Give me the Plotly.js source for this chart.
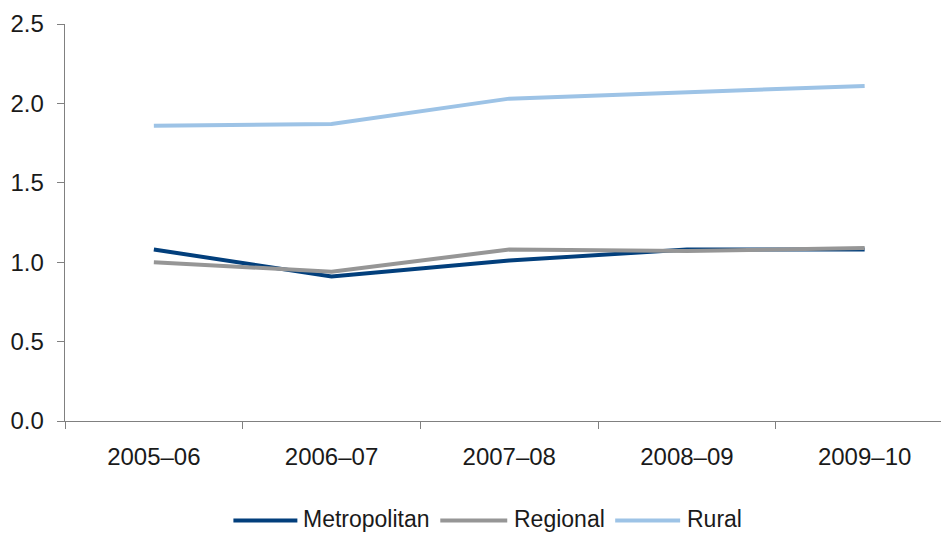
<!DOCTYPE html>
<html>
<head>
<meta charset="utf-8">
<script src="https://cdn.plot.ly/plotly-3.0.1.min.js"></script>
<style>
  html, body { margin: 0; padding: 0; background: #ffffff; }
  #chart { width: 942px; height: 533px; }
</style>
</head>
<body>
<div id="chart"></div>
<script>
// Financial years shown along the x axis
const years = ['2005–06', '2006–07', '2007–08', '2008–09', '2009–10'];

// Values per area type
const metropolitan = [1.08, 0.91, 1.01, 1.08, 1.08];
const regional     = [1.00, 0.94, 1.08, 1.07, 1.09];
const rural        = [1.86, 1.87, 2.03, 2.07, 2.11];

const seriesNames = ['Metropolitan', 'Regional', 'Rural'];
const seriesColors = ['#023f7c', '#969696', '#9dc3e6'];
const seriesValues = [metropolitan, regional, rural];

// Plot box in pixels
const W = 942, H = 533;
const M = { l: 64.5, r: 1, t: 24.3, b: 112.3 };
const plotW = W - M.l - M.r;
const plotH = H - M.t - M.b;
const px2x = px => (px - M.l) / plotW;
const py2y = py => (H - M.b - py) / plotH;

const font = { family: 'Liberation Sans, Arial, sans-serif', size: 24, color: '#1a1a1a' };
const legendFont = { family: 'Liberation Sans, Arial, sans-serif', size: 23, color: '#1a1a1a' };

const traces = seriesValues.map((vals, i) => ({
  type: 'scatter',
  mode: 'lines',
  x: years,
  y: vals,
  name: seriesNames[i],
  line: { color: seriesColors[i], width: 4 },
  showlegend: false
}));

// Hand-placed legend: long swatch lines followed by labels
const legendItems = [
  { x0: 233, x1: 297, tx: 302 },
  { x0: 440, x1: 507, tx: 513 },
  { x0: 615, x1: 680, tx: 686 }
];
const legendY = 520;
const shapes = legendItems.map((it, i) => ({
  type: 'line', xref: 'paper', yref: 'paper',
  x0: px2x(it.x0), x1: px2x(it.x1), y0: py2y(legendY), y1: py2y(legendY),
  line: { color: seriesColors[i], width: 4 }
}));
const annotations = legendItems.map((it, i) => ({
  xref: 'paper', yref: 'paper',
  x: px2x(it.tx), y: py2y(legendY - 1),
  xanchor: 'left', yanchor: 'middle',
  borderpad: 0,
  text: seriesNames[i], showarrow: false, font: legendFont
}));

const layout = {
  width: W, height: H,
  margin: M,
  paper_bgcolor: '#ffffff',
  plot_bgcolor: '#ffffff',
  font: font,
  showlegend: false,
  xaxis: {
    type: 'category',
    range: [-0.5, -0.5 + plotW / 177.8],
    tickson: 'boundaries',
    ticks: 'outside', ticklen: 7, tickcolor: '#808080', tickwidth: 1,
    showline: true, linecolor: '#808080', linewidth: 1.3,
    showgrid: false, zeroline: false,
    ticklabelstandoff: 14,
    tickfont: font
  },
  yaxis: {
    range: [0, 2.5],
    dtick: 0.5, tick0: 0,
    tickformat: '.1f',
    ticks: 'outside', ticklen: 7, tickcolor: '#808080', tickwidth: 1,
    showline: true, linecolor: '#808080', linewidth: 1.3,
    showgrid: false, zeroline: false,
    ticklabelstandoff: 8,
    tickfont: font
  },
  shapes: shapes,
  annotations: annotations
};

Plotly.newPlot('chart', traces, layout, { displayModeBar: false, staticPlot: true });
</script>
</body>
</html>
